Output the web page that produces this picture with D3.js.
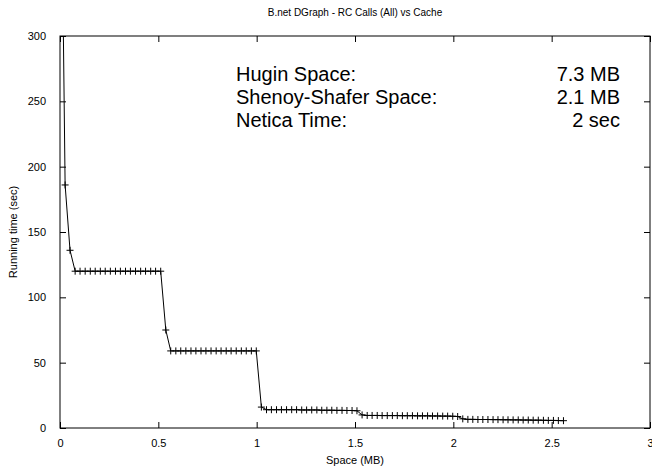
<!DOCTYPE html>
<html>
<head>
<meta charset="utf-8">
<script src="https://cdn.jsdelivr.net/npm/d3@7"></script>
<style>
  body { margin: 0; background: #fff; }
  svg { font-family: "Liberation Sans", Arial, Helvetica, sans-serif; }
  .axis path, .axis line { stroke: #000; }
  .axis text { font-size: 11px; fill: #000; }
</style>
</head>
<body>
<svg id="chart" width="652" height="468"></svg>
<script>
// Cache size (MB) and running time (sec) for each run
const cacheMB = [
  0.000, 0.026, 0.051, 0.077, 0.102, 0.128, 0.154, 0.179, 0.205, 0.230,
  0.256, 0.282, 0.307, 0.333, 0.358, 0.384, 0.410, 0.435, 0.461, 0.486,
  0.512, 0.538, 0.563, 0.589, 0.614, 0.640, 0.666, 0.691, 0.717, 0.742,
  0.768, 0.794, 0.819, 0.845, 0.870, 0.896, 0.922, 0.947, 0.973, 0.998,
  1.024, 1.050, 1.075, 1.101, 1.126, 1.152, 1.178, 1.203, 1.229, 1.254,
  1.280, 1.306, 1.331, 1.357, 1.382, 1.408, 1.434, 1.459, 1.485, 1.510,
  1.536, 1.562, 1.587, 1.613, 1.638, 1.664, 1.690, 1.715, 1.741, 1.766,
  1.792, 1.818, 1.843, 1.869, 1.894, 1.920, 1.946, 1.971, 1.997, 2.022,
  2.048, 2.074, 2.099, 2.125, 2.150, 2.176, 2.202, 2.227, 2.253, 2.278,
  2.304, 2.330, 2.355, 2.381, 2.406, 2.432, 2.458, 2.483, 2.509, 2.534,
  2.560
];
const runSec = [
  525, 186, 136, 120, 120, 120, 120, 120, 120, 120,
  120, 120, 120, 120, 120, 120, 120, 120, 120, 120,
  120, 75, 59, 59, 59, 59, 59, 59, 59, 59,
  59, 59, 59, 59, 59, 59, 59, 59, 59, 59,
  16, 14, 14, 14, 14, 14, 14, 14, 13.8, 13.8,
  13.8, 13.8, 13.6, 13.6, 13.6, 13.5, 13.5, 13.4, 13.4, 13.2,
  10, 9.6, 9.6, 9.6, 9.5, 9.5, 9.5, 9.5, 9.4, 9.4,
  9.4, 9.3, 9.3, 9.3, 9.2, 9.2, 9.1, 9.1, 9, 8.8,
  7, 6.6, 6.6, 6.5, 6.5, 6.5, 6.4, 6.4, 6.3, 6.3,
  6.2, 6.2, 6.1, 6.1, 6, 6, 5.9, 5.8, 5.8, 5.7,
  5.6
];

const xTicks = [0, 0.5, 1, 1.5, 2, 2.5, 3];
const yTicks = [0, 50, 100, 150, 200, 250, 300];

const notesLeft = ['Hugin Space:', 'Shenoy-Shafer Space:', 'Netica Time:'];
const notesRight = ['7.3 MB', '2.1 MB', '2 sec'];

const svg = d3.select('#chart');
const margin = { top: 36, right: 2, bottom: 40, left: 60 };
const innerWidth = 652 - margin.left - margin.right;
const innerHeight = 468 - margin.top - margin.bottom;

const g = svg.append('g')
  .attr('transform', `translate(${margin.left},${margin.top})`);

const xScale = d3.scaleLinear().domain([0, 3]).range([0, innerWidth]);
const yScale = d3.scaleLinear().domain([0, 300]).range([innerHeight, 0]);

// Clip so the first point (off the top) does not escape the frame
g.append('clipPath')
  .attr('id', 'plot-clip')
  .append('rect')
  .attr('width', innerWidth)
  .attr('height', innerHeight);

// Axes: gnuplot style, ticks pointing inward, mirrored on the opposite side
const tickLen = 6;
const fmt = d3.format('');
const noDomain = s => s.select('.domain').remove();
const noText = s => s.selectAll('text').remove();

g.append('g')
  .attr('class', 'axis')
  .attr('transform', `translate(0,${innerHeight})`)
  .call(d3.axisBottom(xScale).tickValues(xTicks).tickFormat(fmt).tickSize(-tickLen).tickPadding(tickLen + 5))
  .call(noDomain);
g.append('g')
  .attr('class', 'axis')
  .call(d3.axisTop(xScale).tickValues(xTicks).tickSize(-tickLen))
  .call(noDomain)
  .call(noText);
g.append('g')
  .attr('class', 'axis')
  .call(d3.axisLeft(yScale).tickValues(yTicks).tickFormat(fmt).tickSize(-tickLen).tickPadding(tickLen + 8))
  .call(noDomain);
g.append('g')
  .attr('class', 'axis')
  .attr('transform', `translate(${innerWidth},0)`)
  .call(d3.axisRight(yScale).tickValues(yTicks).tickSize(-tickLen))
  .call(noDomain)
  .call(noText);

// Border frame
g.append('rect')
  .attr('width', innerWidth)
  .attr('height', innerHeight)
  .attr('fill', 'none')
  .attr('stroke', '#000');

const points = cacheMB.map((x, i) => ({ x, y: runSec[i] }));

const plot = g.append('g').attr('clip-path', 'url(#plot-clip)');

plot.append('path')
  .datum(points)
  .attr('fill', 'none')
  .attr('stroke', '#000')
  .attr('stroke-width', 1)
  .attr('d', d3.line().x(d => xScale(d.x)).y(d => yScale(d.y)));

// "+" point markers
const half = 3.5;
plot.selectAll('path.mark')
  .data(points)
  .join('path')
  .attr('class', 'mark')
  .attr('stroke', '#000')
  .attr('stroke-width', 1)
  .attr('d', d => {
    const cx = xScale(d.x), cy = yScale(d.y);
    return `M${cx - half},${cy}H${cx + half}M${cx},${cy - half}V${cy + half}`;
  });

// Title and axis labels
svg.append('text')
  .attr('x', margin.left + innerWidth / 2)
  .attr('y', 16)
  .attr('text-anchor', 'middle')
  .attr('font-size', 10)
  .text('B.net DGraph - RC Calls (All) vs Cache');

svg.append('text')
  .attr('x', margin.left + innerWidth / 2)
  .attr('y', 464)
  .attr('text-anchor', 'middle')
  .attr('font-size', 11)
  .text('Space (MB)');

svg.append('text')
  .attr('transform', `translate(17,${margin.top + innerHeight / 2}) rotate(-90)`)
  .attr('text-anchor', 'middle')
  .attr('font-size', 11)
  .text('Running time (sec)');

// Annotation block
const noteY = [81, 104, 127];
svg.selectAll('text.note-l')
  .data(notesLeft)
  .join('text')
  .attr('class', 'note-l')
  .attr('x', 236)
  .attr('y', (d, i) => noteY[i])
  .attr('font-size', 20)
  .text(d => d);
svg.selectAll('text.note-r')
  .data(notesRight)
  .join('text')
  .attr('class', 'note-r')
  .attr('x', 620)
  .attr('y', (d, i) => noteY[i])
  .attr('text-anchor', 'end')
  .attr('font-size', 20)
  .text(d => d);
</script>
</body>
</html>
